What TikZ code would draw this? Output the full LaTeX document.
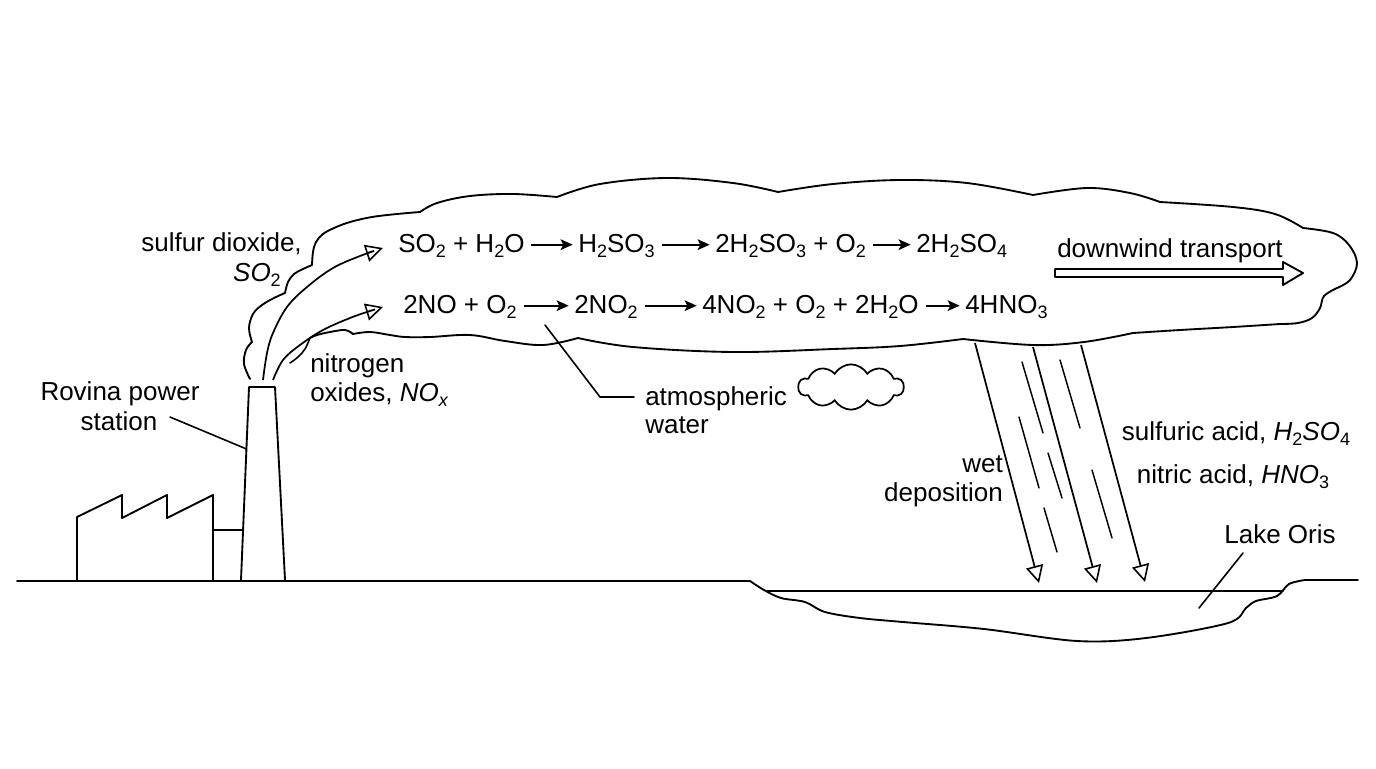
\documentclass[tikz,border=0pt]{standalone}
\usepackage{fontspec}
\setmainfont{Liberation Sans}
\usetikzlibrary{arrows.meta,calc,shapes.symbols}
\newcommand{\chsub}[1]{\raisebox{-4.3pt}{\fontsize{13.5}{14}\selectfont #1}}
\begin{document}
\begin{tikzpicture}[x=0.75pt,y=-0.75pt,
  txt/.style={inner sep=0pt, font=\fontsize{19.5}{22}\selectfont},
  ln/.style={line width=1.4pt, line join=round, line cap=round},
  leader/.style={line width=1.2pt, line cap=round},
  opentip/.style={line width=1.3pt,-{Triangle[open,length=13pt,width=13pt,line width=1.2pt]}},
  rxn/.style={line width=1.4pt,-{Stealth[length=9pt,width=8pt,inset=2pt]}},
  streak/.style={line width=1.1pt, line cap=round}]

\useasboundingbox (0,0) rectangle (1376,768);

% ---------- ground and lake ----------
\draw[ln] (17,581) -- (750,581)
  -- plot[smooth,tension=0.55] coordinates {(750,581) (764,590) (781,598) (805,602) (825,612) (860,618) (903,622) (984,629) (1077,641) (1146,638) (1228,623) (1246,608) (1256,601) (1277,596) (1289,584) (1305,580)}
  -- (1358,580);
\draw[ln] (767,591) -- (1283,591);

% ---------- factory and chimney ----------
\coordinate (ctl) at (249,387);
\coordinate (ctr) at (275,387);
\coordinate (cbl) at (241,580);
\coordinate (cbr) at (285,580);
\draw[ln] (77,580) -- (77,517) -- (122,495) -- (122,518) -- (167,495) -- (167,518) -- (213,495) -- (213,580);
\draw[ln] (213,530) -- ($(ctl)!0.741!(cbl)$);
\draw[ln] (cbl) -- (ctl) -- (ctr) -- (cbr);

% ---------- big cloud ----------
\draw[ln]
  plot[smooth,tension=0.6] coordinates {(250,379) (244,364) (246,350) (252,342)}
  -- plot[smooth,tension=0.6] coordinates {(252,342) (249,328) (253,314) (262,305) (274,298) (285,293)}
  -- plot[smooth,tension=0.6] coordinates {(285,293) (288,282) (294,274) (303,269) (312,265)}
  -- plot[smooth,tension=0.6] coordinates {(312,265) (313,252) (316,242) (323,234) (334,228) (350,222) (372,217) (397,214) (420,212)}
  -- plot[smooth,tension=0.6] coordinates {(420,212) (437,203) (470,196) (513,194) (557,197)}
  -- plot[smooth,tension=0.6] coordinates {(557,197) (600,184) (667,178) (733,183) (778,192)}
  -- plot[smooth,tension=0.6] coordinates {(778,192) (833,184) (900,180) (967,183) (1033,195)}
  -- plot[smooth,tension=0.6] coordinates {(1033,195) (1087,188) (1130,193) (1160,202)}
  -- plot[smooth,tension=0.6] coordinates {(1160,202) (1233,207) (1275,214) (1303,228)}
  -- plot[smooth,tension=0.6] coordinates {(1303,228) (1333,233) (1349,245) (1357,263) (1350,280) (1337,288)}
  -- plot[smooth,tension=0.6] coordinates {(1337,288) (1324,296) (1320,308) (1312,318) (1298,323) (1280,324)}
  -- plot[smooth,tension=0.6] coordinates {(1280,324) (1233,327) (1180,330) (1133,333)}
  -- plot[smooth,tension=0.6] coordinates {(1133,333) (1084,342) (1033,345) (963,339)}
  -- plot[smooth,tension=0.6] coordinates {(963,339) (900,346) (833,349) (733,352) (633,347) (578,338)}
  -- plot[smooth,tension=0.6] coordinates {(578,338) (543,345) (505,341) (470,335) (430,337) (405,337) (390,335) (370,332) (353,334)}
  -- plot[smooth,tension=0.6] coordinates {(353,334) (345,330) (330,332) (317,335) (310,338)};

% ---------- emission arrows ----------
\coordinate (so2start) at (263,380);
\coordinate (so2tip) at (383,248);
\coordinate (noxstart) at (273,380);
\coordinate (noxtip) at (383,307);
\draw[opentip] plot[smooth,tension=0.6] coordinates {(so2start) (267,353) (273,333) (287,307) (307,287) (333,268) (360,256) (so2tip)};
\draw[opentip] plot[smooth,tension=0.6] coordinates {(noxstart) (283,360) (300,345) (323,330) (350,318) (367,312) (noxtip)};

% ---------- labels on the left ----------
\node[txt,anchor=base east] (sd1) at (302,251) {sulfur dioxide,};
\node[txt,anchor=base east] (sd2) at (281,281) {\textit{SO}\chsub{2}};
\node[txt,anchor=base west] (no1) at (310,372) {nitrogen};
\node[txt,anchor=base west] (no2) at (310,401) {oxides, \textit{NO\chsub{x}}};
\coordinate (nolead) at (290,363);
\draw[leader] plot[smooth,tension=0.6] coordinates {(310,338) (305,349) (298,357) (nolead)};
\node[txt,anchor=base] (rv1) at (120,400) {Rovina power};
\node[txt,anchor=base] (rv2) at (119,430) {station};
\coordinate (rvlead) at (170,417);
\draw[leader] (rvlead) -- ($(ctl)!0.321!(cbl)$);

% ---------- reactions ----------
\node[txt,anchor=base west] (a1) at (398,252) {SO\chsub{2} + H\chsub{2}O};
\node[txt,anchor=base west] (a2) at (578,252) {H\chsub{2}SO\chsub{3}};
\node[txt,anchor=base west] (a3) at (715,252) {2H\chsub{2}SO\chsub{3} + O\chsub{2}};
\node[txt,anchor=base west] (a4) at (916,252) {2H\chsub{2}SO\chsub{4}};
\draw[rxn] ([xshift=5pt,yshift=5.5pt]a1.base east) -- ([xshift=-4pt,yshift=5.5pt]a2.base west);
\draw[rxn] ([xshift=5pt,yshift=5.5pt]a2.base east) -- ([xshift=-4pt,yshift=5.5pt]a3.base west);
\draw[rxn] ([xshift=5pt,yshift=5.5pt]a3.base east) -- ([xshift=-4pt,yshift=5.5pt]a4.base west);

\node[txt,anchor=base west] (b1) at (403,313) {2NO + O\chsub{2}};
\node[txt,anchor=base west] (b2) at (574,313) {2NO\chsub{2}};
\node[txt,anchor=base west] (b3) at (702,313) {4NO\chsub{2} + O\chsub{2} + 2H\chsub{2}O};
\node[txt,anchor=base west] (b4) at (965,313) {4HNO\chsub{3}};
\draw[rxn] ([xshift=5pt,yshift=5.5pt]b1.base east) -- ([xshift=-4pt,yshift=5.5pt]b2.base west);
\draw[rxn] ([xshift=5pt,yshift=5.5pt]b2.base east) -- ([xshift=-4pt,yshift=5.5pt]b3.base west);
\draw[rxn] ([xshift=5pt,yshift=5.5pt]b3.base east) -- ([xshift=-4pt,yshift=5.5pt]b4.base west);

% ---------- downwind transport ----------
\node[txt,anchor=base west] (dw) at (1057,257) {downwind transport};
\draw[ln] (1055,269) -- (1283,269) -- (1283,262) -- (1303,273) -- (1283,285) -- (1283,277) -- (1055,277) -- cycle;

% ---------- atmospheric water ----------
\node[txt,anchor=base west] (aw1) at (645,405) {atmospheric};
\node[txt,anchor=base west] (aw2) at (645,433) {water};
\coordinate (awa) at (545,325);
\coordinate (awb) at (600,397);
\coordinate (awc) at (634,397);
\draw[leader] (awa) -- (awb) -- (awc);
\node[cloud, draw, line width=1.3pt, cloud puffs=10, cloud puff arc=120, aspect=2.3,
      minimum width=79pt, minimum height=34pt, inner sep=0pt] (smallcloud) at (851,387) {};

% ---------- wet deposition ----------
\coordinate (d1s) at (975,343);  \coordinate (d1e) at (1039,583);
\coordinate (d2s) at (1033,347); \coordinate (d2e) at (1097,583);
\coordinate (d3s) at (1081,345); \coordinate (d3e) at (1145,582);
\draw[opentip] (d1s) -- (d1e);
\draw[opentip] (d2s) -- (d2e);
\draw[opentip] (d3s) -- (d3e);
\draw[streak] (1022,362) -- (1043,433);
\draw[streak] (1019,417) -- (1039,488);
\draw[streak] (1044,508) -- (1057,552);
\draw[streak] (1048,453) -- (1062,498);
\draw[streak] (1060,360) -- (1080,428);
\draw[streak] (1092,470) -- (1112,538);

\node[txt,anchor=base east] (wd1) at (1003,472) {wet};
\node[txt,anchor=base east] (wd2) at (1003,501) {deposition};
\node[txt,anchor=base] (sa) at (1236,440) {sulfuric acid, \textit{H}\chsub{2}\textit{SO}\chsub{4}};
\node[txt,anchor=base] (na) at (1233,483) {nitric acid, \textit{HNO}\chsub{3}};

% ---------- lake label ----------
\node[txt,anchor=base] (lk) at (1280,543) {Lake Oris};
\coordinate (lka) at (1243,553);
\coordinate (lkb) at (1199,608);
\draw[leader] (lka) -- (lkb);
\end{tikzpicture}
\end{document}
